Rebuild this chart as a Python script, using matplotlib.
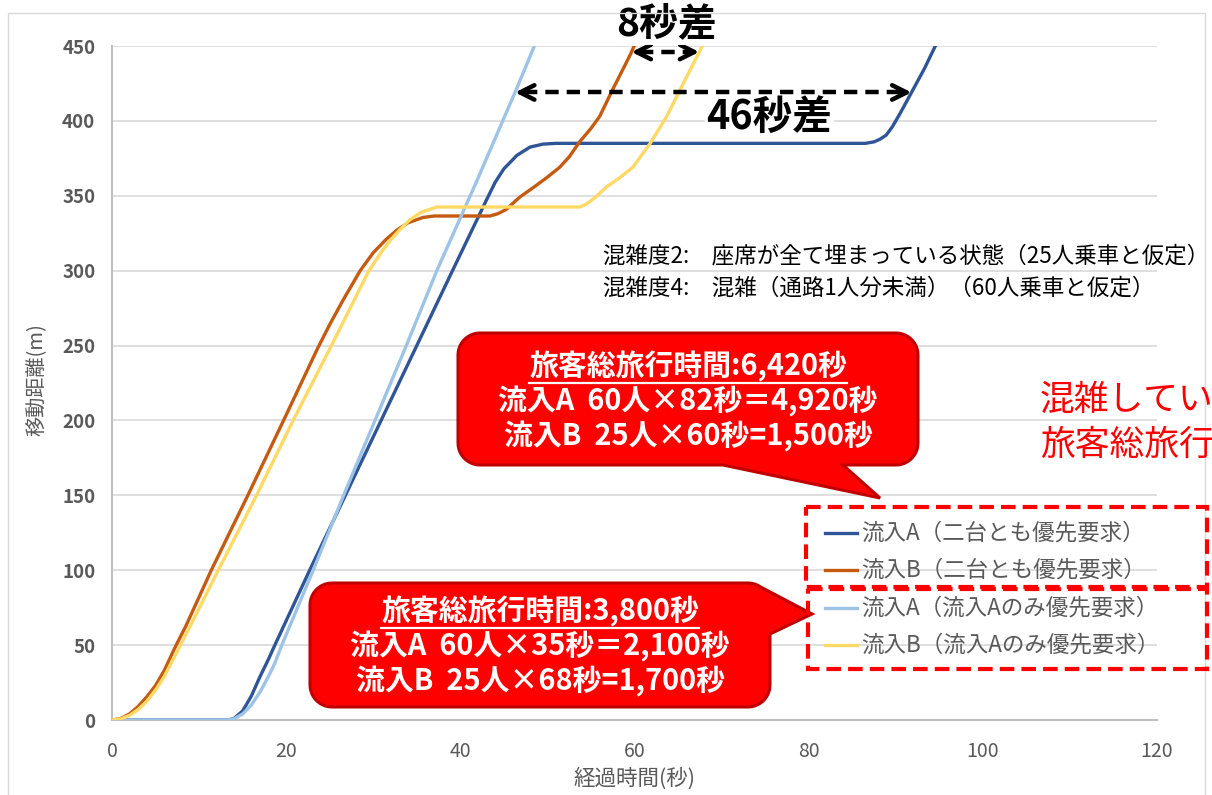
import numpy as np
import matplotlib.pyplot as plt
from matplotlib.patches import Polygon, Rectangle

plt.rcParams['font.family'] = ['Noto Sans CJK JP', 'DejaVu Sans']

# elapsed time (s) / distance travelled (m) for each case
t_a_both = [0, 13.3, 14, 15, 16, 17, 18, 18.7, 22.7, 26.8, 30.9, 35.0, 39.1, 41.0, 42.9, 44.0,
            45.0, 46.5, 48.0, 49.5, 51.0, 86.5, 87.5, 88.2, 88.9, 89.6, 90.5, 92.0, 93.3, 94.5, 95.5]
d_a_both = [0, 0, 1, 6, 16, 29, 41, 50, 100, 150, 200, 250, 300, 323, 346, 359,
            368, 377, 382.5, 384.5, 385, 385, 386, 387.8, 390.5, 396, 405, 421, 435, 449.5, 461]

t_b_both = [0, 1, 2, 3, 4, 5, 6, 7.2, 8.5, 11.4, 15.6, 19.7, 23.6, 25.0, 26.5, 28.5, 30.0, 31.5,
            32.7, 34.0, 35.7, 37.0, 43.4, 44.3, 45.3, 46.8, 48.5, 49.9, 51.4, 52.5, 53.7, 55.0,
            56.0, 57.5, 59.5, 60.5]
d_b_both = [0, 1, 4, 9, 15.5, 23, 33, 48, 63, 100, 150, 200, 248, 264, 280, 300, 312, 321,
            327, 332, 335.5, 336.5, 336.5, 338, 341, 349, 356, 362, 369, 376, 386, 395,
            403, 421, 444, 457]

t_a_only = [0, 13.2, 14, 15, 16, 17, 18, 18.7, 19.5, 23.1, 26.6, 30.2, 33.8, 37.3, 41.9, 46.5, 48.5, 49.3]
d_a_only = [0, 0, 0.8, 4, 10, 18.7, 29.5, 38, 50, 100, 150, 200, 250, 300, 360, 422, 450, 461]

t_b_only = [0, 1, 2, 3, 4, 5, 6, 7.6, 9, 12.2, 16.6, 20.8, 25.2, 29.5, 31.0, 32.0, 33.0, 34.2,
            35.5, 37.3, 53.7, 54.5, 55.5, 56.8, 58.3, 59.8, 61.8, 63.7, 65.6, 67.7, 68.5]
d_b_only = [0, 0.8, 3, 7, 12.5, 20, 29, 47, 63, 100, 150, 200, 250, 300, 313, 320.5, 327, 334,
            339, 342.5, 342.5, 344.5, 349, 356, 362, 369, 385, 403, 425, 449, 459]

labels = ['流入A（二台とも優先要求）', '流入B（二台とも優先要求）',
          '流入A（流入Aのみ優先要求）', '流入B（流入Aのみ優先要求）']
colors = ['#2f5597', '#c55a11', '#9dc3e6', '#ffd966']

x_ticks = [0, 20, 40, 60, 80, 100, 120]
y_ticks = [0, 50, 100, 150, 200, 250, 300, 350, 400, 450]

# passengers and travel time per inflow (A, B)
riders = [60, 25]
secs_both = [82, 60]
secs_a_only = [35, 68]

fig = plt.figure(figsize=(12.12, 7.95), dpi=100)
ax = fig.add_axes([112 / 1212, 75 / 795, 1045 / 1212, 674 / 795])

series = [(t_a_both, d_a_both), (t_b_both, d_b_both), (t_a_only, d_a_only), (t_b_only, d_b_only)]
for (t, d), c in zip(series, colors):
    ax.plot(t, d, color=c, lw=2.4, zorder=3)

ax.set_xlim(0, 120)
ax.set_ylim(0, 450)
ax.set_xticks(x_ticks)
ax.set_yticks(y_ticks)
ax.grid(axis='y', color='#d9d9d9', lw=1.2)
ax.set_axisbelow(True)
for s in ['top', 'right']:
    ax.spines[s].set_visible(False)
for s in ['left', 'bottom']:
    ax.spines[s].set_color('#bfbfbf')
    ax.spines[s].set_linewidth(1.5)
ax.tick_params(axis='both', length=0, labelcolor='#595959')
ax.tick_params(axis='x', pad=15, labelsize=14)
ax.tick_params(axis='y', pad=12, labelsize=13.5)
for lab in ax.get_yticklabels():
    lab.set_fontweight('bold')
ax.set_xlabel('経過時間(秒)', fontsize=15.5, color='#595959')
ax.set_ylabel('移動距離(m)', fontsize=14.5, color='#595959')
ax.xaxis.set_label_coords(0.5, -0.07)
ax.yaxis.set_label_coords(-0.062, 0.505)


def gap_arrow(x0, x1, y):
    ax.plot([x0 + 1.0, x1 - 1.0], [y, y], color='black', lw=3.2, ls=(0, (3, 1.8)),
            clip_on=False, zorder=6)
    for tip, tail in ((x0, x0 + 1.3), (x1, x1 - 1.3)):
        ax.annotate('', xy=(tip, y), xytext=(tail, y), annotation_clip=False, zorder=6,
                    arrowprops=dict(arrowstyle='->', lw=3.2, color='black',
                                    mutation_scale=26, shrinkA=0, shrinkB=0))


# arrival gaps at the top of the chart
lvl_8 = 446
x_b_both = np.interp(lvl_8, d_b_both, t_b_both)
x_b_only = np.interp(lvl_8, d_b_only, t_b_only)
gap_arrow(x_b_both, x_b_only, lvl_8)
ax.text(63.7, 465, '8秒差', fontsize=28, fontweight='bold', ha='center', va='center',
        zorder=7, bbox=dict(fc='white', ec='none', pad=1))

lvl_46 = 419
x_a_only = np.interp(lvl_46, d_a_only, t_a_only)
x_a_both = np.interp(lvl_46, d_a_both[20:], t_a_both[20:])
gap_arrow(x_a_only, x_a_both, lvl_46)
ax.text(75.5, 402, '46秒差', fontsize=28.5, fontweight='bold', ha='center', va='center',
        zorder=7, bbox=dict(fc='white', ec='none', pad=1))

# overlay in pixel units for notes, callouts and legend
ov = fig.add_axes([0, 0, 1, 1], zorder=5)
ov.set_xlim(0, 1212)
ov.set_ylim(795, 0)
ov.axis('off')

ov.add_patch(Rectangle((8, 13), 1197, 800, fill=False, ec='#d9d9d9', lw=1, clip_on=False))

ov.text(603, 256, '混雑度2:\u3000座席が全て埋まっている状態（25人乗車と仮定）', fontsize=16.2, va='center')
ov.text(603, 288, '混雑度4:\u3000混雑（通路1人分未満）（60人乗車と仮定）', fontsize=16.2, va='center')

ov.text(1040, 400, '混雑してい', fontsize=25, color='#ff0000', va='center')
ov.text(1040, 445, '旅客総旅行', fontsize=25, color='#ff0000', va='center')


def callout(x0, y0, x1, y1, r, side, base, tip):
    def arc(cx, cy, a0, a1):
        a = np.radians(np.linspace(a0, a1, 12))
        return list(zip(cx + r * np.cos(a), cy + r * np.sin(a)))
    pts = [(x0 + r, y0), (x1 - r, y0)]
    if side == 'right':
        # tail leaves from the upper right corner
        pts += arc(x1 - r, y0 + r, -90, -55)
        pts += [tip, (x1, base)]
    else:
        pts += arc(x1 - r, y0 + r, -90, 0)
    pts += arc(x1 - r, y1 - r, 0, 90)
    if side == 'bottom':
        pts += [(base[1], y1), tip, (base[0], y1)]
    pts += arc(x0 + r, y1 - r, 90, 180)
    pts += arc(x0 + r, y0 + r, 180, 270)
    ov.add_patch(Polygon(pts, closed=True, fc='#ff0000', ec='#c00000', lw=2.2))


def callout_text(cx, ys, head, lines):
    t = ov.text(cx, ys[0], head, fontsize=20.8, fontweight='bold', color='white',
                ha='center', va='center')
    for y, s in zip(ys[1:], lines):
        ov.text(cx, y, s, fontsize=20.8, fontweight='bold', color='white', ha='center', va='center')
    return t


def fmt(n):
    return f'{n:,}'


tot_both = [r * s for r, s in zip(riders, secs_both)]
tot_a_only = [r * s for r, s in zip(riders, secs_a_only)]

callout(458, 333, 918, 465, 22, 'bottom', (723, 843), (880, 498))
h1 = callout_text(688, [366, 401, 436], f'旅客総旅行時間:{fmt(sum(tot_both))}秒',
                  [f'流入A  {riders[0]}人×{secs_both[0]}秒＝{fmt(tot_both[0])}秒',
                   f'流入B  {riders[1]}人×{secs_both[1]}秒={fmt(tot_both[1])}秒'])

callout(310, 583, 770, 707, 22, 'right', 634, (812, 614))
h2 = callout_text(540, [611, 646, 681], f'旅客総旅行時間:{fmt(sum(tot_a_only))}秒',
                  [f'流入A  {riders[0]}人×{secs_a_only[0]}秒＝{fmt(tot_a_only[0])}秒',
                   f'流入B  {riders[1]}人×{secs_a_only[1]}秒={fmt(tot_a_only[1])}秒'])

# underline the headline of each callout
fig.canvas.draw()
inv = ov.transData.inverted()
for h in (h1, h2):
    bb = h.get_window_extent()
    (xa, ya), (xb, yb) = inv.transform([(bb.x0, bb.y0), (bb.x1, bb.y1)])
    ov.plot([xa, xb], [ya + 1, ya + 1], color='white', lw=1.6)

# legend with the red dashed frames
for i, (lab, c) in enumerate(zip(labels, colors)):
    y = 533 + 37.4 * i
    ov.plot([825, 857], [y, y], color=c, lw=2.4)
    ov.text(861, y, lab, fontsize=16.2, color='#595959', va='center')

ov.add_patch(Rectangle((806, 507), 401, 80, fill=False, ec='#ff0000', lw=3, ls=(0, (3.5, 1.7))))
ov.add_patch(Rectangle((808, 589), 399, 80, fill=False, ec='#ff0000', lw=3, ls=(0, (3.5, 1.7))))

fig.savefig('out.png', dpi=100)
